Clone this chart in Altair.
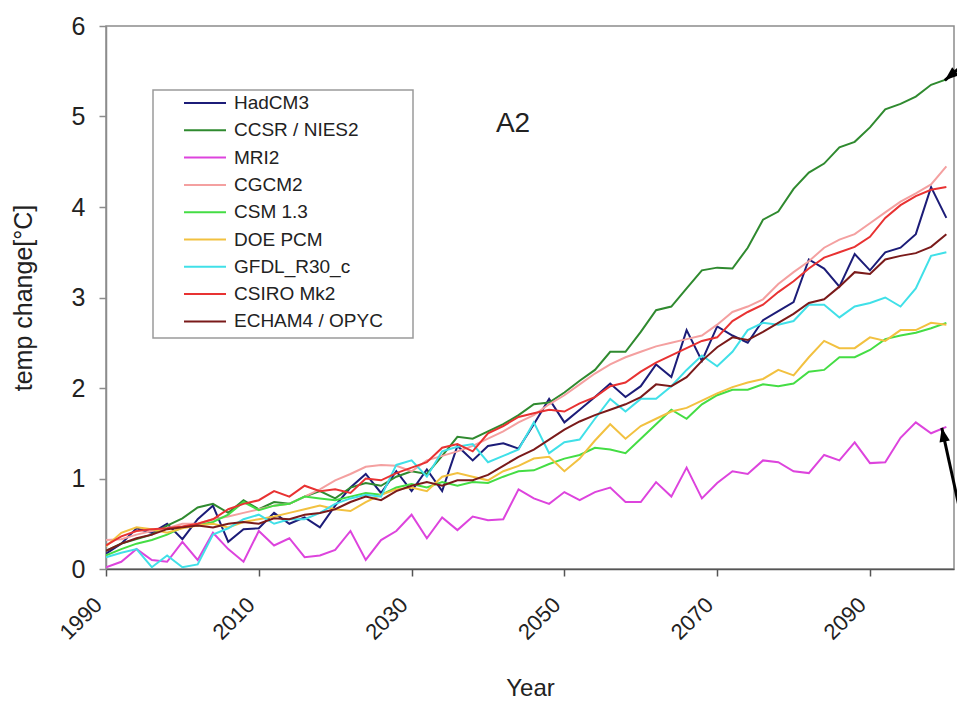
import altair as alt
import pandas as pd

# ---------------- data (2-year steps) ----------------
years = list(range(1990, 2101, 2))

hadcm3 = [0.17, 0.28, 0.45, 0.40, 0.50, 0.33, 0.55, 0.70, 0.30, 0.44,
          0.45, 0.62, 0.50, 0.57, 0.46, 0.70, 0.90, 1.05, 0.84, 1.08,
          0.86, 1.10, 0.86, 1.36, 1.20, 1.36, 1.39, 1.33, 1.60, 1.88,
          1.62, 1.76, 1.90, 2.05, 1.90, 2.02, 2.26, 2.12, 2.64, 2.30,
          2.68, 2.58, 2.50, 2.75, 2.85, 2.95, 3.42, 3.32, 3.12, 3.48,
          3.30, 3.50, 3.55, 3.70, 4.22, 3.88]

ccsr = [0.20, 0.28, 0.33, 0.38, 0.48, 0.56, 0.68, 0.72, 0.62, 0.76,
        0.66, 0.74, 0.72, 0.80, 0.86, 0.78, 0.90, 0.95, 0.92, 1.02,
        1.08, 1.05, 1.25, 1.46, 1.44, 1.52, 1.60, 1.70, 1.82, 1.84,
        1.95, 2.08, 2.20, 2.40, 2.40, 2.62, 2.86, 2.90, 3.10, 3.30,
        3.33, 3.32, 3.55, 3.86, 3.95, 4.20, 4.38, 4.48, 4.66, 4.72,
        4.88, 5.08, 5.14, 5.22, 5.35, 5.41]

mri2 = [0.02, 0.08, 0.22, 0.10, 0.08, 0.30, 0.10, 0.40, 0.22, 0.08,
        0.42, 0.26, 0.34, 0.13, 0.15, 0.21, 0.42, 0.10, 0.32, 0.42,
        0.60, 0.34, 0.57, 0.43, 0.58, 0.54, 0.55, 0.88, 0.78, 0.72,
        0.85, 0.76, 0.85, 0.90, 0.74, 0.74, 0.96, 0.80, 1.12, 0.78,
        0.95, 1.08, 1.05, 1.20, 1.18, 1.08, 1.06, 1.26, 1.20, 1.40,
        1.17, 1.18, 1.45, 1.62, 1.50, 1.57]

cgcm2 = [0.32, 0.33, 0.38, 0.42, 0.45, 0.50, 0.50, 0.55, 0.58, 0.62,
         0.66, 0.70, 0.72, 0.80, 0.88, 0.98, 1.05, 1.13, 1.15, 1.14,
         1.08, 1.20, 1.25, 1.30, 1.36, 1.44, 1.52, 1.62, 1.70, 1.82,
         1.92, 2.04, 2.16, 2.26, 2.34, 2.40, 2.46, 2.50, 2.54, 2.58,
         2.70, 2.84, 2.90, 2.98, 3.15, 3.28, 3.40, 3.55, 3.64, 3.70,
         3.82, 3.94, 4.06, 4.15, 4.25, 4.45]

csm13 = [0.15, 0.22, 0.28, 0.32, 0.38, 0.46, 0.48, 0.52, 0.60, 0.74,
         0.65, 0.70, 0.72, 0.80, 0.78, 0.76, 0.80, 0.84, 0.82, 0.90,
         0.94, 0.90, 0.96, 0.92, 0.96, 0.95, 1.02, 1.08, 1.09, 1.16,
         1.22, 1.26, 1.34, 1.32, 1.28, 1.44, 1.60, 1.76, 1.66, 1.82,
         1.92, 1.98, 1.98, 2.04, 2.02, 2.05, 2.18, 2.20, 2.34, 2.34,
         2.42, 2.54, 2.58, 2.61, 2.66, 2.72]

doepcm = [0.25, 0.40, 0.46, 0.44, 0.40, 0.45, 0.48, 0.50, 0.46, 0.52,
          0.55, 0.58, 0.62, 0.66, 0.70, 0.66, 0.64, 0.74, 0.82, 0.88,
          0.90, 0.86, 1.02, 1.06, 1.02, 0.98, 1.08, 1.14, 1.22, 1.24,
          1.08, 1.22, 1.42, 1.60, 1.44, 1.58, 1.66, 1.74, 1.78, 1.86,
          1.94, 2.01, 2.06, 2.10, 2.20, 2.14, 2.34, 2.52, 2.44, 2.44,
          2.56, 2.52, 2.64, 2.64, 2.72, 2.70]

gfdl = [0.13, 0.18, 0.22, 0.02, 0.15, 0.02, 0.05, 0.38, 0.45, 0.55,
        0.60, 0.50, 0.55, 0.55, 0.62, 0.72, 0.78, 0.82, 0.80, 1.15,
        1.20, 1.02, 1.30, 1.35, 1.38, 1.18, 1.25, 1.32, 1.62, 1.28,
        1.40, 1.43, 1.66, 1.88, 1.74, 1.88, 1.88, 2.02, 2.20, 2.36,
        2.24, 2.40, 2.64, 2.72, 2.70, 2.74, 2.92, 2.92, 2.78, 2.90,
        2.94, 3.00, 2.90, 3.10, 3.46, 3.50]

csiro = [0.26, 0.36, 0.42, 0.44, 0.45, 0.47, 0.50, 0.55, 0.66, 0.72,
         0.76, 0.86, 0.80, 0.92, 0.86, 0.88, 0.84, 1.00, 0.98, 1.06,
         1.12, 1.18, 1.34, 1.38, 1.30, 1.50, 1.58, 1.68, 1.72, 1.76,
         1.74, 1.83, 1.90, 2.02, 2.06, 2.18, 2.28, 2.36, 2.44, 2.52,
         2.56, 2.74, 2.84, 2.92, 3.06, 3.18, 3.32, 3.44, 3.50, 3.56,
         3.67, 3.88, 4.02, 4.12, 4.19, 4.22]

echam4 = [0.20, 0.28, 0.34, 0.38, 0.44, 0.46, 0.48, 0.46, 0.50, 0.52,
          0.50, 0.56, 0.55, 0.60, 0.62, 0.66, 0.74, 0.80, 0.76, 0.86,
          0.92, 0.96, 0.92, 0.98, 0.98, 1.04, 1.14, 1.24, 1.32, 1.43,
          1.54, 1.63, 1.70, 1.76, 1.82, 1.90, 2.04, 2.02, 2.12, 2.30,
          2.45, 2.56, 2.53, 2.62, 2.72, 2.82, 2.94, 2.98, 3.12, 3.28,
          3.26, 3.42, 3.46, 3.49, 3.56, 3.70]

series_names = ["HadCM3", "CCSR / NIES2", "MRI2", "CGCM2", "CSM 1.3",
                "DOE PCM", "GFDL_R30_c", "CSIRO Mk2", "ECHAM4 / OPYC"]
series_colors = ["#1c1c78", "#2f8a2f", "#dd44dd", "#f4a0a0", "#44dd44",
                 "#f2c140", "#40e0e8", "#e83232", "#7a1a1a"]
series_values = [hadcm3, ccsr, mri2, cgcm2, csm13, doepcm, gfdl, csiro, echam4]

x_ticks = [1990, 2010, 2030, 2050, 2070, 2090]
y_ticks = [0, 1, 2, 3, 4, 5, 6]

# annotation arrows (tip -> tail, data coordinates) and arrow-head angles
arrow_tip_x = [2099.8, 2099.4]
arrow_tip_y = [5.40, 1.56]
arrow_tail_x = [2103.7, 2102.0]
arrow_tail_y = [5.68, 0.56]
arrow_angle = [320, 78]

scenario_label = "A2"

# ---------------- build ----------------
rows = []
for name, vals in zip(series_names, series_values):
    for yr, v in zip(years, vals):
        rows.append({"Year": yr, "Temp": v, "Model": name})
df = pd.DataFrame(rows)

arrows = pd.DataFrame({"x": arrow_tip_x, "y": arrow_tip_y,
                       "x2": arrow_tail_x, "y2": arrow_tail_y,
                       "angle": arrow_angle})

FONT = "Liberation Sans"

xscale = alt.Scale(domain=[1990, 2101], nice=False, zero=False)
yscale = alt.Scale(domain=[0, 6], nice=False, zero=False)

box = alt.Chart(pd.DataFrame({"k": [0]})).mark_rect(
    fill="white", stroke="#9a9a9a", strokeWidth=1.5
).encode(x=alt.value(47), x2=alt.value(307), y=alt.value(64), y2=alt.value(312))

lines = alt.Chart(df).mark_line(strokeWidth=2, clip=True).encode(
    x=alt.X("Year:Q", scale=xscale,
            axis=alt.Axis(values=x_ticks, format="d", title="Year",
                          labelAngle=315, labelAlign="right", labelBaseline="middle",
                          labelPadding=25, labelOffset=-8, labelFontSize=22,
                          titleY=126, titleBaseline="alphabetic",
                          domainColor="#555555", tickColor="#555555")),
    y=alt.Y("Temp:Q", scale=yscale,
            axis=alt.Axis(values=y_ticks, format="d", title="temp change[°C]",
                          labelFontSize=25, labelPadding=14,
                          titleX=-75, titleBaseline="alphabetic", titleFontSize=25,
                          domainColor="#8c8c8c", tickColor="#8c8c8c")),
    color=alt.Color("Model:N",
                    scale=alt.Scale(domain=series_names, range=series_colors),
                    title=None,
                    legend=alt.Legend(orient="none", legendX=77, legendY=67,
                                      symbolType="stroke", symbolSize=1764,
                                      symbolStrokeWidth=2, labelFontSize=19,
                                      labelOffset=7, clipHeight=20, rowPadding=7.3,
                                      padding=0, labelFont=FONT, labelColor="#222222",
                                      labelLimit=400)),
)

shafts = alt.Chart(arrows).mark_rule(color="black", strokeWidth=3, clip=False).encode(
    x=alt.X("x:Q", scale=xscale), y=alt.Y("y:Q", scale=yscale),
    x2="x2:Q", y2="y2:Q")

heads = alt.Chart(arrows).mark_point(
    shape="M0,0L2,-0.75L2,0.75Z", filled=True, color="black", opacity=1, clip=False
).encode(
    x=alt.X("x:Q", scale=xscale), y=alt.Y("y:Q", scale=yscale),
    angle=alt.Angle("angle:Q", scale=None), size=alt.value(196))

label = alt.Chart(pd.DataFrame({"t": [scenario_label]})).mark_text(
    fontSize=28, font=FONT, color="#222222", align="center", baseline="middle"
).encode(text="t:N", x=alt.value(407), y=alt.value(98))

chart = alt.layer(box, lines, shafts, heads, label).properties(
    width=848, height=543,
    autosize=alt.AutoSizeParams(type="none"),
    padding={"left": 106, "top": 26, "right": 3, "bottom": 130},
).configure_view(
    stroke="#8c8c8c", strokeWidth=1.5
).configure_axis(
    grid=False, labelFont=FONT, titleFont=FONT, labelColor="#222222",
    titleColor="#222222", titleFontSize=24, titleFontWeight="normal",
    tickSize=7, domainWidth=1.5, tickWidth=1.5, labelFlush=False,
    labelOverlap=False
)

chart.save("out.html", embed_options={"renderer": "svg", "actions": False})
